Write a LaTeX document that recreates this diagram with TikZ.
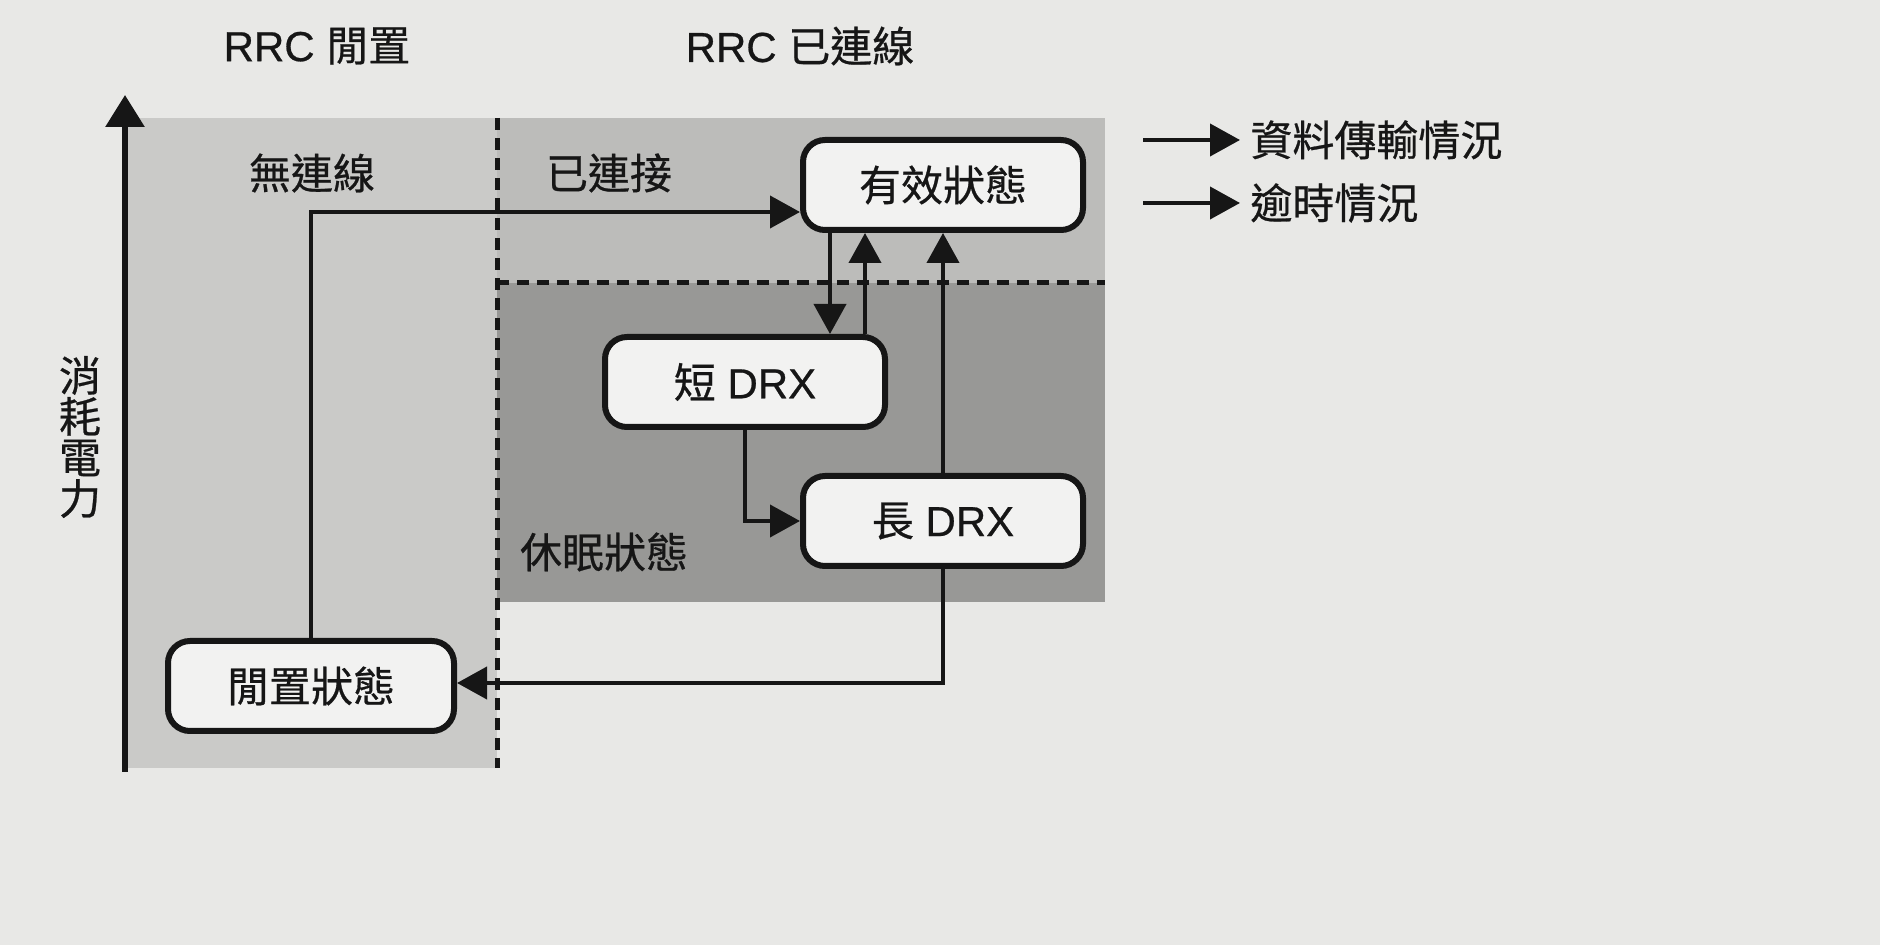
\documentclass[tikz,border=0pt]{standalone}
\usepackage{fontspec}
\setmainfont{Liberation Sans}[FakeBold=0.6]
\newfontfamily\cjk{Noto Sans CJK TC}[FakeBold=0.6]
\usetikzlibrary{arrows.meta}
\definecolor{pagebg}{RGB}{232,232,230}
\definecolor{zoneA}{RGB}{202,202,200}
\definecolor{zoneB}{RGB}{188,188,186}
\definecolor{zoneC}{RGB}{152,152,150}
\definecolor{boxfill}{RGB}{242,242,241}
\definecolor{ink}{RGB}{22,22,22}
\tikzset{
  statebox/.style={draw=ink, line width=3pt, rounded corners=11pt, fill=boxfill,
    minimum width=140pt, minimum height=45pt, inner sep=0pt, font=\fontsize{21}{25}\selectfont, text=ink},
  arr/.style={draw=ink, line width=2pt, -{Triangle[length=15pt,width=16pt]}},
  zonelabel/.style={font=\cjk\fontsize{21}{25}\selectfont, text=ink, inner sep=0pt},
  title/.style={font=\fontsize{21}{25}\selectfont, text=ink, inner sep=0pt},
  dividing/.style={draw=ink, line width=2.5pt, dash pattern=on 6pt off 4pt},
}
\begin{document}
\begin{tikzpicture}[x=0.5pt,y=-0.5pt]
\useasboundingbox (0,0) rectangle (1880,945);
\fill[pagebg] (0,0) rectangle (1880,945);
% zones
\fill[zoneA] (125,118) rectangle (497,768);
\fill[zoneB] (497,118) rectangle (1105,283);
\fill[zoneC] (497,283) rectangle (1105,602);
\draw[dividing] (497,118) -- (497,768);
\draw[dividing] (497,283) -- (1105,283);
% axis
\coordinate (axbot) at (125,772);
\coordinate (axtop) at (125,95);
\draw[draw=ink, line width=3pt, -{Triangle[length=16pt,width=19pt]}] (axbot) -- (axtop);
\node[align=center, font=\cjk\fontsize{21}{20.5}\selectfont, text=ink, inner sep=0pt] (ylab) at (80,437) {消\\耗\\電\\力};
% titles
\node[title] (t1) at (317,46) {RRC {\cjk 閒置}};
\node[title] (t2) at (800,46) {RRC {\cjk 已連線}};
% zone labels
\node[zonelabel] (z1) at (312,173) {無連線};
\node[zonelabel] (z2) at (609,173) {已連接};
\node[zonelabel] (z3) at (604,552) {休眠狀態};
% states
\node[statebox] (active) at (943,185) {\cjk 有效狀態};
\node[statebox] (short) at (745,382) {{\cjk 短} DRX};
\node[statebox] (long) at (943,521) {{\cjk 長} DRX};
\node[statebox, minimum width=143pt] (idle) at (311,686) {\cjk 閒置狀態};
% connectors
\draw[arr] (idle.north) |- ([yshift=-13.5pt]active.west);
\draw[arr] (active.south -| 830,0) -- (short.north -| 830,0);
\draw[arr] (short.north -| 865,0) -- (active.south -| 865,0);
\draw[arr] (long.north) -- (active.south);
\draw[arr] (short.south) |- (long.west);
\draw[arr] (long.south) |- ([yshift=1.5pt]idle.east);
% legend
\node[zonelabel, anchor=west, inner sep=5pt] (leg1) at (1240,140) {資料傳輸情況};
\node[zonelabel, anchor=west, inner sep=5pt] (leg2) at (1240,203) {逾時情況};
\coordinate (l1s) at (1143,140);
\coordinate (l2s) at (1143,203);
\draw[arr] (l1s) -- (leg1.west);
\draw[arr] (l2s) -- (leg2.west);
\end{tikzpicture}
\end{document}
